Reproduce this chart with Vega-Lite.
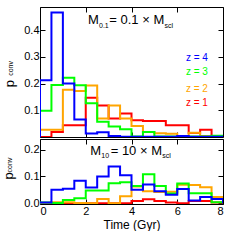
{
  "$schema": "https://vega.github.io/schema/vega-lite/v6.json",
  "padding": {"left": 2, "top": 6, "right": 0, "bottom": 0},
  "spacing": 0,
  "config": {
    "view": {"stroke": "black", "strokeWidth": 1},
    "font": "Liberation Sans",
    "axis": {"domain": false, "grid": false, "tickSize": -5, "tickColor": "black", "tickWidth": 1, "labelFont": "Liberation Sans", "labelFontSize": 11, "labelColor": "black", "labelPadding": 6, "titleFont": "Liberation Sans", "titleFontSize": 12, "titleFontWeight": "normal", "titleColor": "black"}
  },
  "datasets": {
    "top": [
      {"z":1,"i":0,"t":0,"p":0},{"z":1,"i":1,"t":0,"p":0},{"z":1,"i":2,"t":0.5,"p":0.019},{"z":1,"i":3,"t":1,"p":0.044},{"z":1,"i":4,"t":1.5,"p":0.044},{"z":1,"i":5,"t":2,"p":0.147},{"z":1,"i":6,"t":2.5,"p":0.118},{"z":1,"i":7,"t":3,"p":0.069},{"z":1,"i":8,"t":3.5,"p":0.088},{"z":1,"i":9,"t":4,"p":0.063},{"z":1,"i":10,"t":4.5,"p":0.06},{"z":1,"i":11,"t":5,"p":0.06},{"z":1,"i":12,"t":5.5,"p":0.044},{"z":1,"i":13,"t":6,"p":0.044},{"z":1,"i":14,"t":6.5,"p":0.015},{"z":1,"i":15,"t":7,"p":0.027},{"z":1,"i":16,"t":7.5,"p":0},{"z":1,"i":17,"t":8,"p":0},{"z":1,"i":18,"t":8,"p":0},
      {"z":2,"i":0,"t":0,"p":0},{"z":2,"i":1,"t":0,"p":0.027},{"z":2,"i":2,"t":0.5,"p":0.027},{"z":2,"i":3,"t":1,"p":0.177},{"z":2,"i":4,"t":1.5,"p":0.172},{"z":2,"i":5,"t":2,"p":0.193},{"z":2,"i":6,"t":2.5,"p":0.069},{"z":2,"i":7,"t":3,"p":0.118},{"z":2,"i":8,"t":3.5,"p":0.069},{"z":2,"i":9,"t":4,"p":0.041},{"z":2,"i":10,"t":4.5,"p":0.019},{"z":2,"i":11,"t":5,"p":0.014},{"z":2,"i":12,"t":5.5,"p":0.012},{"z":2,"i":13,"t":6,"p":0.003},{"z":2,"i":14,"t":6.5,"p":0.016},{"z":2,"i":15,"t":7,"p":0.004},{"z":2,"i":16,"t":7.5,"p":0.003},{"z":2,"i":17,"t":8,"p":0.003},{"z":2,"i":18,"t":8,"p":0},
      {"z":3,"i":0,"t":0,"p":0},{"z":3,"i":1,"t":0,"p":0.098},{"z":3,"i":2,"t":0.5,"p":0.195},{"z":3,"i":3,"t":1,"p":0.222},{"z":3,"i":4,"t":1.5,"p":0.194},{"z":3,"i":5,"t":2,"p":0.126},{"z":3,"i":6,"t":2.5,"p":0.057},{"z":3,"i":7,"t":3,"p":0.039},{"z":3,"i":8,"t":3.5,"p":0.029},{"z":3,"i":9,"t":4,"p":0.002},{"z":3,"i":10,"t":4.5,"p":0.019},{"z":3,"i":11,"t":5,"p":0.002},{"z":3,"i":12,"t":5.5,"p":0.002},{"z":3,"i":13,"t":6,"p":0.002},{"z":3,"i":14,"t":6.5,"p":0.002},{"z":3,"i":15,"t":7,"p":0.002},{"z":3,"i":16,"t":7.5,"p":0.005},{"z":3,"i":17,"t":8,"p":0.005},{"z":3,"i":18,"t":8,"p":0},
      {"z":4,"i":0,"t":0,"p":0},{"z":4,"i":1,"t":0,"p":0.213},{"z":4,"i":2,"t":0.5,"p":0.466},{"z":4,"i":3,"t":1,"p":0.2},{"z":4,"i":4,"t":1.5,"p":0.066},{"z":4,"i":5,"t":2,"p":0.013},{"z":4,"i":6,"t":2.5,"p":0.018},{"z":4,"i":7,"t":3,"p":0.004},{"z":4,"i":8,"t":3.5,"p":0.001},{"z":4,"i":9,"t":4,"p":0.001},{"z":4,"i":10,"t":4.5,"p":0.001},{"z":4,"i":11,"t":5,"p":0.001},{"z":4,"i":12,"t":5.5,"p":0.001},{"z":4,"i":13,"t":6,"p":0.004},{"z":4,"i":14,"t":6.5,"p":0.001},{"z":4,"i":15,"t":7,"p":0.001},{"z":4,"i":16,"t":7.5,"p":0.001},{"z":4,"i":17,"t":8,"p":0.001},{"z":4,"i":18,"t":8,"p":0}
    ],
    "bot": [
      {"z":1,"i":0,"t":0,"p":0},{"z":1,"i":1,"t":0,"p":0},{"z":1,"i":2,"t":0.5,"p":0},{"z":1,"i":3,"t":1,"p":0},{"z":1,"i":4,"t":1.5,"p":0},{"z":1,"i":5,"t":2,"p":0},{"z":1,"i":6,"t":2.5,"p":0},{"z":1,"i":7,"t":3,"p":0},{"z":1,"i":8,"t":3.5,"p":0},{"z":1,"i":9,"t":4,"p":0.008},{"z":1,"i":10,"t":4.5,"p":0.015},{"z":1,"i":11,"t":5,"p":0.008},{"z":1,"i":12,"t":5.5,"p":0.003},{"z":1,"i":13,"t":6,"p":0},{"z":1,"i":14,"t":6.5,"p":0.008},{"z":1,"i":15,"t":7,"p":0.008},{"z":1,"i":16,"t":7.5,"p":0.003},{"z":1,"i":17,"t":8,"p":0.003},{"z":1,"i":18,"t":8,"p":0},
      {"z":2,"i":0,"t":0,"p":0},{"z":2,"i":1,"t":0,"p":0},{"z":2,"i":2,"t":0.5,"p":0.004},{"z":2,"i":3,"t":1,"p":0.004},{"z":2,"i":4,"t":1.5,"p":0.001},{"z":2,"i":5,"t":2,"p":0},{"z":2,"i":6,"t":2.5,"p":0.016},{"z":2,"i":7,"t":3,"p":0},{"z":2,"i":8,"t":3.5,"p":0.026},{"z":2,"i":9,"t":4,"p":0.063},{"z":2,"i":10,"t":4.5,"p":0.045},{"z":2,"i":11,"t":5,"p":0.042},{"z":2,"i":12,"t":5.5,"p":0.043},{"z":2,"i":13,"t":6,"p":0.069},{"z":2,"i":14,"t":6.5,"p":0.068},{"z":2,"i":15,"t":7,"p":0.06},{"z":2,"i":16,"t":7.5,"p":0.023},{"z":2,"i":17,"t":8,"p":0.023},{"z":2,"i":18,"t":8,"p":0},
      {"z":3,"i":0,"t":0,"p":0},{"z":3,"i":1,"t":0,"p":0.003},{"z":3,"i":2,"t":0.5,"p":0.001},{"z":3,"i":3,"t":1,"p":0.012},{"z":3,"i":4,"t":1.5,"p":0.019},{"z":3,"i":5,"t":2,"p":0.048},{"z":3,"i":6,"t":2.5,"p":0.048},{"z":3,"i":7,"t":3,"p":0.075},{"z":3,"i":8,"t":3.5,"p":0.078},{"z":3,"i":9,"t":4,"p":0.064},{"z":3,"i":10,"t":4.5,"p":0.108},{"z":3,"i":11,"t":5,"p":0.064},{"z":3,"i":12,"t":5.5,"p":0.036},{"z":3,"i":13,"t":6,"p":0.074},{"z":3,"i":14,"t":6.5,"p":0.037},{"z":3,"i":15,"t":7,"p":0.037},{"z":3,"i":16,"t":7.5,"p":0.004},{"z":3,"i":17,"t":8,"p":0.004},{"z":3,"i":18,"t":8,"p":0},
      {"z":4,"i":0,"t":0,"p":0},{"z":4,"i":1,"t":0,"p":0.003},{"z":4,"i":2,"t":0.5,"p":0.05},{"z":4,"i":3,"t":1,"p":0.054},{"z":4,"i":4,"t":1.5,"p":0.084},{"z":4,"i":5,"t":2,"p":0.059},{"z":4,"i":6,"t":2.5,"p":0.1},{"z":4,"i":7,"t":3,"p":0.137},{"z":4,"i":8,"t":3.5,"p":0.105},{"z":4,"i":9,"t":4,"p":0.05},{"z":4,"i":10,"t":4.5,"p":0.07},{"z":4,"i":11,"t":5,"p":0.045},{"z":4,"i":12,"t":5.5,"p":0.032},{"z":4,"i":13,"t":6,"p":0.053},{"z":4,"i":14,"t":6.5,"p":0.01},{"z":4,"i":15,"t":7,"p":0.023},{"z":4,"i":16,"t":7.5,"p":0.016},{"z":4,"i":17,"t":8,"p":0.016},{"z":4,"i":18,"t":8,"p":0}
    ],
    "topnote": [
      {"s":"M","t":2.1,"p":0.424,"k":"big"},
      {"s":"0.1","t":2.58,"p":0.41,"k":"sub"},
      {"s":"= 0.1 × M","t":3.03,"p":0.424,"k":"big"},
      {"s":"scl","t":5.44,"p":0.41,"k":"sub"}
    ],
    "botnote": [
      {"s":"M","t":2.2,"p":0.182,"k":"big"},
      {"s":"10","t":2.68,"p":0.168,"k":"sub"},
      {"s":"= 10 × M","t":3.09,"p":0.182,"k":"big"},
      {"s":"scl","t":5.34,"p":0.168,"k":"sub"}
    ],
    "legend": [
      {"s":"z = 4","z":4,"t":6.38,"p":0.297},
      {"s":"z = 3","z":3,"t":6.38,"p":0.242},
      {"s":"z = 2","z":2,"t":6.38,"p":0.181},
      {"s":"z = 1","z":1,"t":6.38,"p":0.127}
    ],
    "topylab": [
      {"s":"p","t":-1.31,"p":0.2,"k":"big"},
      {"s":"conv","t":-1.25,"p":0.257,"k":"sub"}
    ],
    "botylab": [
      {"s":"p","t":-1.35,"p":0.102,"k":"big"},
      {"s":"conv","t":-1.3,"p":0.143,"k":"sub"}
    ]
  },
  "vconcat": [
    {
      "width": 183,
      "height": 130,
      "resolve": {"axis": {"x": "independent", "y": "independent"}},
      "layer": [
        {
          "data": {"name": "top"},
          "mark": {"type": "line", "interpolate": "step-after", "strokeWidth": 2, "clip": true},
          "encoding": {
            "x": {"field": "t", "type": "quantitative", "scale": {"domain": [0, 8], "nice": false}, "axis": {"orient": "bottom", "values": [0, 2, 4, 6, 8], "labels": false, "title": null}},
            "y": {"field": "p", "type": "quantitative", "scale": {"domain": [0, 0.487], "nice": false, "zero": false}, "axis": {"orient": "left", "values": [0.1, 0.2, 0.3, 0.4], "format": ".1f", "title": null}},
            "color": {"field": "z", "type": "ordinal", "scale": {"domain": [1, 2, 3, 4], "range": ["#ff0000", "#ffa500", "#00ff00", "#0000ff"]}, "legend": null},
            "order": {"field": "i", "type": "quantitative"}
          }
        },
        {
          "data": {"name": "top"},
          "mark": {"type": "line", "strokeOpacity": 0},
          "encoding": {
            "x": {"field": "t", "type": "quantitative", "axis": {"orient": "top", "values": [0, 2, 4, 6, 8], "labels": false, "title": null}},
            "y": {"field": "p", "type": "quantitative", "axis": {"orient": "right", "values": [0.1, 0.2, 0.3, 0.4], "labels": false, "title": null}}
          }
        },
        {
          "data": {"name": "legend"},
          "mark": {"type": "text", "align": "left", "baseline": "middle", "fontSize": 10, "font": "Liberation Sans"},
          "encoding": {
            "x": {"field": "t", "type": "quantitative", "axis": null},
            "y": {"field": "p", "type": "quantitative", "axis": null},
            "text": {"field": "s"},
            "color": {"field": "z", "type": "ordinal", "legend": null}
          }
        },
        {
          "data": {"name": "topnote"},
          "mark": {"type": "text", "align": "left", "baseline": "alphabetic", "font": "Liberation Sans", "color": "black"},
          "encoding": {
            "x": {"field": "t", "type": "quantitative", "axis": null},
            "y": {"field": "p", "type": "quantitative", "axis": null},
            "text": {"field": "s"},
            "size": {"field": "k", "type": "nominal", "scale": {"domain": ["big", "sub"], "range": [13, 7]}, "legend": null}
          }
        },
        {
          "data": {"name": "topylab"},
          "mark": {"type": "text", "align": "center", "baseline": "middle", "angle": 270, "font": "Liberation Sans", "color": "black"},
          "encoding": {
            "x": {"field": "t", "type": "quantitative", "axis": null},
            "y": {"field": "p", "type": "quantitative", "axis": null},
            "text": {"field": "s"},
            "size": {"field": "k", "type": "nominal", "scale": {"domain": ["big", "sub"], "range": [13, 9]}, "legend": null}
          }
        }
      ]
    },
    {
      "width": 183,
      "height": 65,
      "resolve": {"axis": {"x": "independent", "y": "independent"}},
      "layer": [
        {
          "data": {"name": "bot"},
          "mark": {"type": "line", "interpolate": "step-after", "strokeWidth": 2, "clip": true},
          "encoding": {
            "x": {"field": "t", "type": "quantitative", "scale": {"domain": [0, 8], "nice": false}, "axis": {"orient": "bottom", "values": [0, 2, 4, 6, 8], "title": "Time (Gyr)", "labelPadding": 6, "titlePadding": 3}},
            "y": {"field": "p", "type": "quantitative", "scale": {"domain": [-0.003, 0.2404], "nice": false, "zero": false}, "axis": {"orient": "left", "values": [0, 0.1, 0.2], "format": ".1f", "title": null}},
            "color": {"field": "z", "type": "ordinal", "scale": {"domain": [1, 2, 3, 4], "range": ["#ff0000", "#ffa500", "#00ff00", "#0000ff"]}, "legend": null},
            "order": {"field": "i", "type": "quantitative"}
          }
        },
        {
          "data": {"name": "bot"},
          "mark": {"type": "line", "strokeOpacity": 0},
          "encoding": {
            "x": {"field": "t", "type": "quantitative", "axis": {"orient": "top", "values": [0, 2, 4, 6, 8], "labels": false, "title": null}},
            "y": {"field": "p", "type": "quantitative", "axis": {"orient": "right", "values": [0, 0.1, 0.2], "labels": false, "title": null}}
          }
        },
        {
          "data": {"name": "botnote"},
          "mark": {"type": "text", "align": "left", "baseline": "alphabetic", "font": "Liberation Sans", "color": "black"},
          "encoding": {
            "x": {"field": "t", "type": "quantitative", "axis": null},
            "y": {"field": "p", "type": "quantitative", "axis": null},
            "text": {"field": "s"},
            "size": {"field": "k", "type": "nominal", "scale": {"domain": ["big", "sub"], "range": [13, 7]}, "legend": null}
          }
        },
        {
          "data": {"name": "botylab"},
          "mark": {"type": "text", "align": "center", "baseline": "middle", "angle": 270, "font": "Liberation Sans", "color": "black"},
          "encoding": {
            "x": {"field": "t", "type": "quantitative", "axis": null},
            "y": {"field": "p", "type": "quantitative", "axis": null},
            "text": {"field": "s"},
            "size": {"field": "k", "type": "nominal", "scale": {"domain": ["big", "sub"], "range": [13, 6.5]}, "legend": null}
          }
        }
      ]
    }
  ]
}
